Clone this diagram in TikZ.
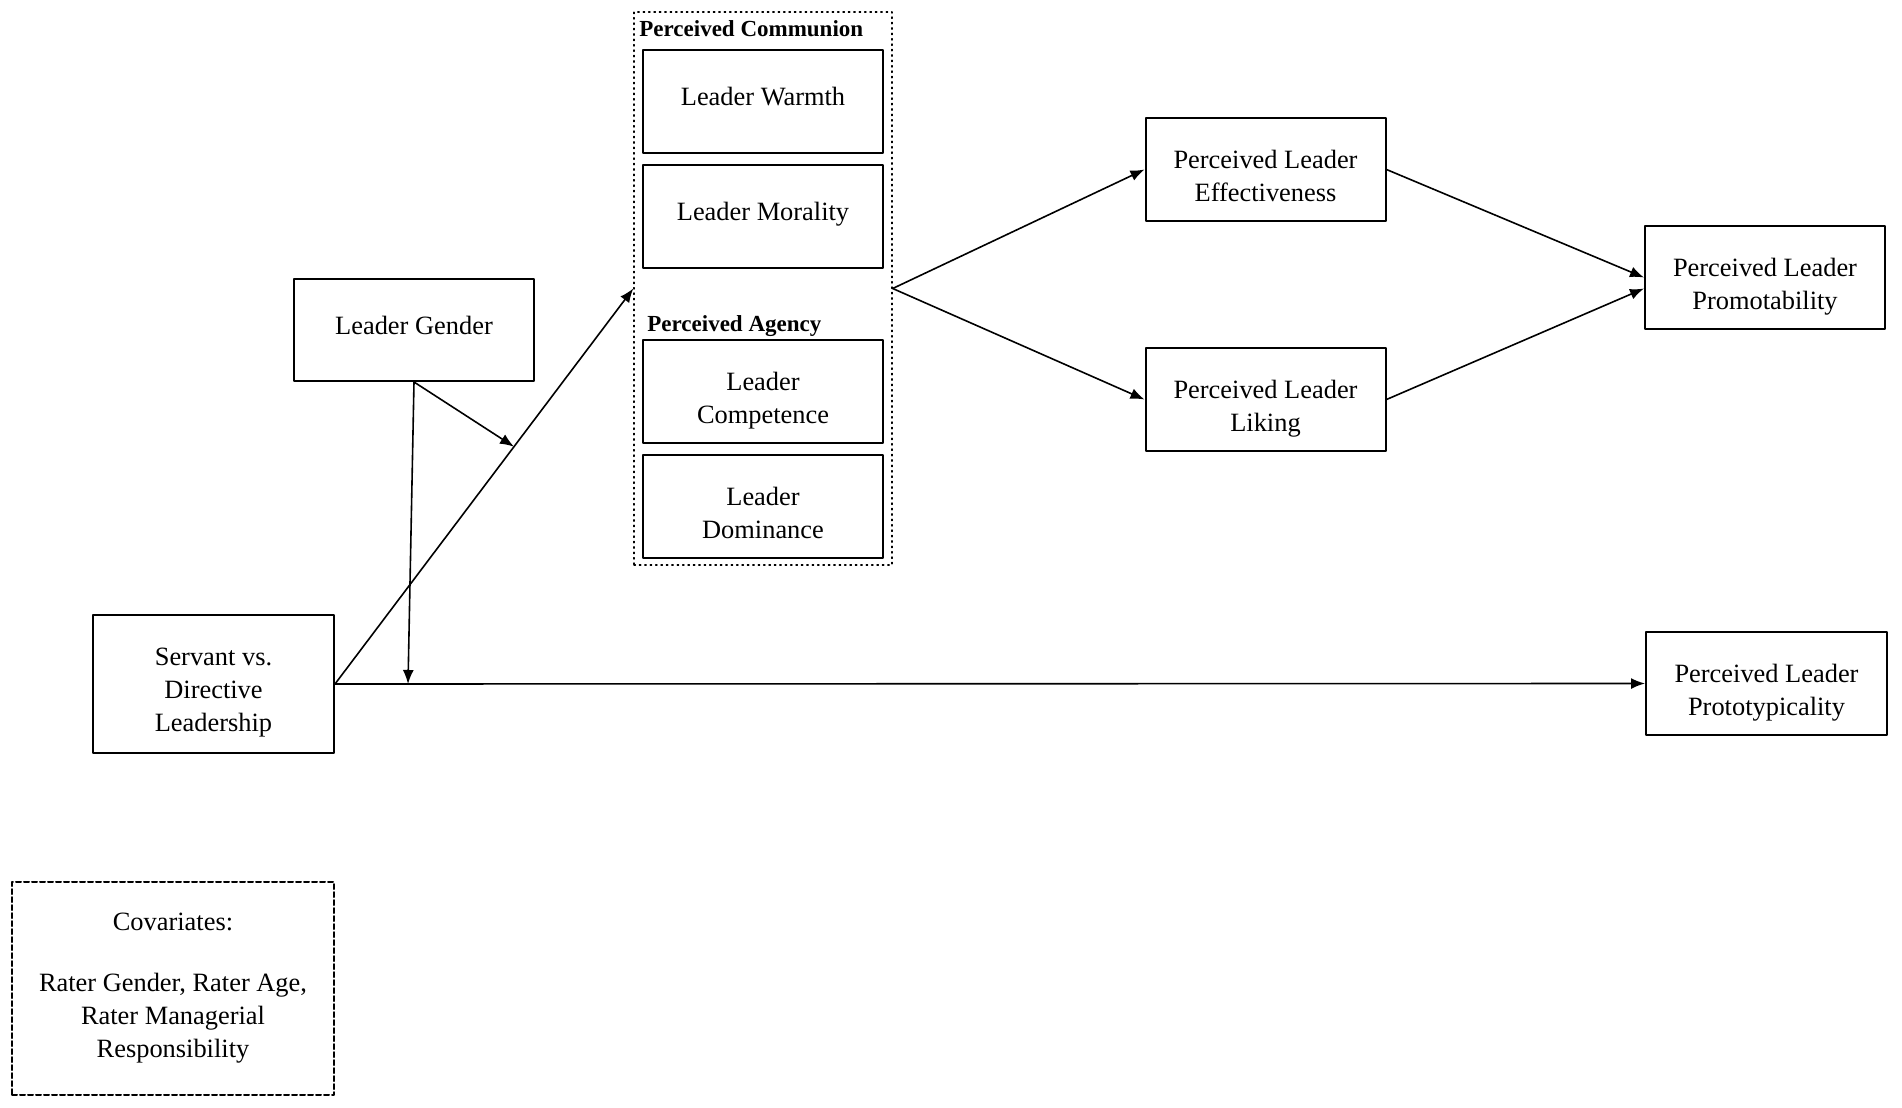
\documentclass[tikz,border=0pt]{standalone}
\usepackage{fontspec}
\setmainfont{Liberation Serif}
\usetikzlibrary{arrows.meta,calc}

\begin{document}
\begin{tikzpicture}[x=0.5pt, y=-0.5pt, line cap=round, line join=round,
    boxwd/.store in=\boxwd, boxht/.store in=\boxht, gap/.store in=\boxgap,
    boxwd=120pt, boxht=51.5pt, gap=13.5pt,
    box/.style={draw, line width=1pt, minimum width=\boxwd, minimum height=\boxht, inner sep=0pt,
      execute at begin node={\begin{minipage}[c][\boxht][t]{\boxwd}\fontsize{13.2}{16.5}\selectfont\centering\vspace*{\boxgap}\strut},
      execute at end node={\end{minipage}}},
    link/.style={line width=0.8pt, -{Latex[length=7pt,width=5.5pt]}},
    grouplabel/.style={anchor=west, inner sep=0pt, font=\fontsize{11.5}{13}\selectfont\bfseries}]
  % Page frame (pixel grid of the figure)
  \useasboundingbox (0,0) rectangle (1902,1108);

  % Mediator group (dotted frame)
  \node[draw, dotted, line width=0.7pt, minimum width=129pt, minimum height=276.5pt] (percep) at (763,288.5) {};
  \node[grouplabel] (commlabel) at (639,29) {Perceived Communion};
  \node[grouplabel] (agenlabel) at (647,326) {Perceived Agency};

  \node[gap=16pt, box] (warmth)   at (763,101.5) {Leader Warmth};
  \node[gap=16pt, box] (morality) at (763,216.5) {Leader Morality};
  \node[box] (competence) at (763,391.5) {Leader\\Competence};
  \node[box] (dominance)  at (763,506.5) {Leader\\Dominance};

  % Predictor and moderator
  \node[gap=16pt, boxht=51pt, box] (gender) at (414,330) {Leader Gender};
  \node[boxwd=120.5pt, boxht=69pt, box] (servant) at (213.5,684) {Servant vs.\\Directive\\Leadership};

  % Outcomes
  \node[box] (effect) at (1265.5,169.5) {Perceived Leader\\Effectiveness};
  \node[box] (liking) at (1265.5,399.5) {Perceived Leader\\Liking};
  \node[box] (promot) at (1765,277.5)   {Perceived Leader\\Promotability};
  \node[boxwd=120.5pt, box] (proto) at (1766.5,683.5) {Perceived Leader\\Prototypicality};

  % Covariates (dashed frame)
  \node[boxwd=161pt, boxht=106.5pt, gap=12.5pt, box, dashed, dash pattern=on 2.5pt off 1.5pt] (covar) at (173,988.5)
    {Covariates:\\[14pt]Rater Gender, Rater Age,\\Rater Managerial\\Responsibility};

  % Points where the moderator meets the paths
  \coordinate (onmain) at (408,684);
  \coordinate (ondiag) at ($(servant.east)!0.6!(percep.west)$);

  % Paths
  \draw[link] (servant.east) -- (proto.west);
  \draw[link] (servant.east) -- (percep.west);
  \draw[link] (gender.south) -- (onmain);
  \draw[link] (gender.south) -- (ondiag);
  \draw[link] (percep.east) -- (effect.west);
  \draw[link] (percep.east) -- (liking.west);
  \draw[link] (effect.east) -- (promot.west);
  \draw[link] (liking.east) -- ($(promot.west)+(0,11)$);

\end{tikzpicture}
\end{document}
